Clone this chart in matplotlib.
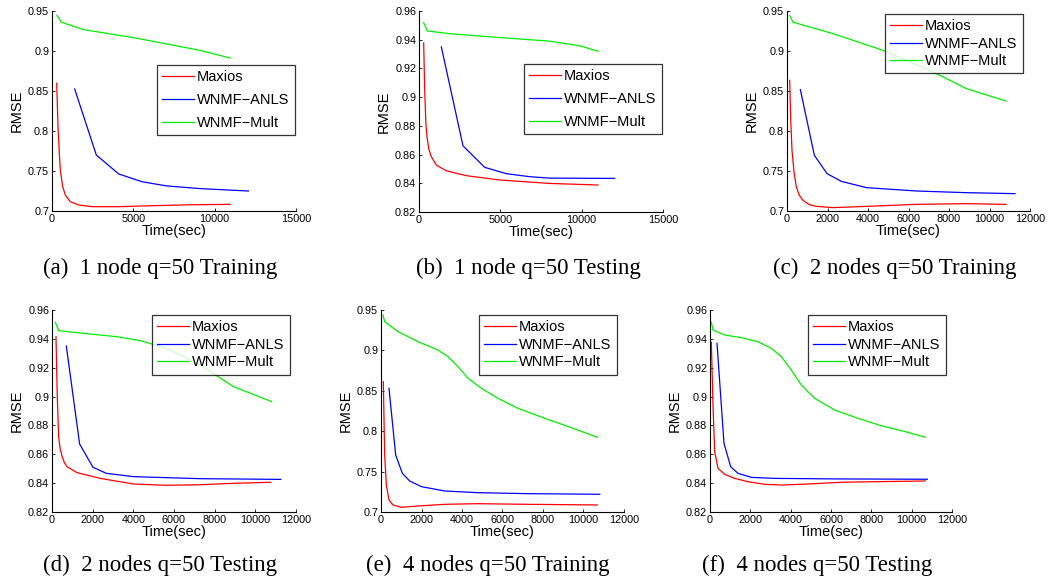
import matplotlib
matplotlib.use("Agg")
import matplotlib.pyplot as plt
from matplotlib.ticker import FuncFormatter

plt.rcParams['font.family'] = ['Liberation Sans', 'DejaVu Sans']

labels = ["Maxios", "WNMF\u2212ANLS", "WNMF\u2212Mult"]
colors = ["#ff0000", "#0000ff", "#00ee00"]

captions = ["(a)  1 node q=50 Training", "(b)  1 node q=50 Testing",
            "(c)  2 nodes q=50 Training", "(d)  2 nodes q=50 Testing",
            "(e)  4 nodes q=50 Training", "(f)  4 nodes q=50 Testing"]

# (a) 1 node training
a_red_x = [289, 370, 450, 512, 656, 820, 1127, 1639, 2459, 4100, 6148, 8500, 10947]
a_red_y = [0.8596, 0.805, 0.772, 0.7513, 0.7304, 0.720, 0.7116, 0.7075, 0.7054, 0.7054, 0.7066, 0.7078, 0.7083]
a_blue_x = [1393, 2725, 4100, 5533, 7059, 9106, 12073]
a_blue_y = [0.8525, 0.770, 0.7463, 0.7366, 0.7313, 0.728, 0.725]
a_green_x = [307, 573, 1944, 5013, 9106, 10947]
a_green_y = [0.9446, 0.936, 0.9267, 0.9167, 0.9008, 0.8913]

# (b) 1 node testing
b_red_x = [287, 350, 420, 492, 600, 758, 1066, 1680, 2910, 4959, 8033, 11004]
b_red_y = [0.9378, 0.905, 0.882, 0.8724, 0.864, 0.8585, 0.8527, 0.8487, 0.8453, 0.8423, 0.8399, 0.8388]
b_blue_x = [1373, 2705, 4037, 5369, 6803, 8033, 12029]
b_blue_y = [0.935, 0.8661, 0.8511, 0.8467, 0.8446, 0.8436, 0.8434]
b_green_x = [287, 512, 1885, 4959, 8033, 9877, 11004]
b_green_y = [0.9519, 0.9461, 0.9442, 0.9415, 0.9390, 0.9358, 0.932]

# (c) 2 nodes training
c_red_x = [132, 190, 247, 350, 462, 600, 791, 1100, 1451, 2275, 3923, 6396, 8868, 10813]
c_red_y = [0.8633, 0.810, 0.7758, 0.748, 0.730, 0.720, 0.7133, 0.708, 0.7058, 0.7042, 0.7058, 0.7083, 0.7092, 0.7083]
c_blue_x = [659, 1352, 1978, 2687, 3923, 6396, 8868, 11258]
c_blue_y = [0.8517, 0.7696, 0.7467, 0.737, 0.7292, 0.725, 0.7229, 0.7217]
c_green_x = [132, 297, 2275, 4747, 7220, 8868, 10813]
c_green_y = [0.9446, 0.936, 0.9217, 0.9008, 0.8738, 0.8529, 0.8375]

# (d) 2 nodes testing
d_red_x = [196, 260, 327, 400, 491, 600, 737, 1228, 2374, 4011, 5648, 7285, 8923, 10757]
d_red_y = [0.9415, 0.900, 0.8722, 0.864, 0.8588, 0.8545, 0.8514, 0.8473, 0.8433, 0.8394, 0.8385, 0.8389, 0.8399, 0.8406]
d_blue_x = [704, 1359, 2014, 2669, 4011, 7285, 11248]
d_blue_y = [0.935, 0.8671, 0.851, 0.8468, 0.8445, 0.8431, 0.8426]
d_green_x = [164, 327, 1555, 3193, 4339, 5648, 7285, 8923, 10806]
d_green_y = [0.9515, 0.9457, 0.9438, 0.9415, 0.9388, 0.9334, 0.9219, 0.9069, 0.8965]

# (e) 4 nodes training
e_red_x = [115, 181, 264, 395, 593, 1004, 1827, 3144, 4790, 7259, 10683]
e_red_y = [0.8613, 0.7706, 0.7334, 0.7149, 0.7087, 0.7058, 0.7074, 0.7095, 0.7103, 0.7095, 0.7087]
e_blue_x = [395, 724, 1053, 1416, 1992, 3144, 4790, 7259, 10800]
e_blue_y = [0.8531, 0.7706, 0.7479, 0.7384, 0.7314, 0.726, 0.7239, 0.7227, 0.7219]
e_green_x = [99, 181, 840, 1827, 2815, 3309, 3802, 4296, 4955, 5778, 6765, 8083, 9399, 10683]
e_green_y = [0.9438, 0.9355, 0.9232, 0.9108, 0.9005, 0.8922, 0.8798, 0.8655, 0.8531, 0.8407, 0.8283, 0.816, 0.8044, 0.7924]

# (f) 4 nodes testing
f_red_x = [66, 149, 231, 397, 728, 1223, 1884, 2711, 3537, 4860, 6513, 8166, 10677]
f_red_y = [0.9376, 0.8942, 0.8618, 0.8503, 0.8461, 0.8433, 0.841, 0.8392, 0.8387, 0.8394, 0.8406, 0.841, 0.8415]
f_blue_x = [347, 694, 1025, 1389, 2049, 3207, 6513, 10776]
f_blue_y = [0.9369, 0.8676, 0.8514, 0.8468, 0.844, 0.8433, 0.8429, 0.8427]
f_green_x = [66, 149, 728, 1554, 2380, 3041, 3537, 4033, 4529, 5190, 6183, 7339, 8496, 9818, 10677]
f_green_y = [0.9515, 0.9461, 0.9427, 0.9408, 0.938, 0.9334, 0.9277, 0.9184, 0.908, 0.8988, 0.8907, 0.8849, 0.8798, 0.8752, 0.8718]

xticks_15k = [0, 5000, 10000, 15000]
xticks_12k = [0, 2000, 4000, 6000, 8000, 10000, 12000]
yticks_train = [0.7, 0.75, 0.8, 0.85, 0.9, 0.95]
yticks_test = [0.82, 0.84, 0.86, 0.88, 0.9, 0.92, 0.94, 0.96]

panels = [
    dict(series=[(a_red_x, a_red_y), (a_blue_x, a_blue_y), (a_green_x, a_green_y)],
         xt=xticks_15k, yt=yticks_train),
    dict(series=[(b_red_x, b_red_y), (b_blue_x, b_blue_y), (b_green_x, b_green_y)],
         xt=xticks_15k, yt=yticks_test),
    dict(series=[(c_red_x, c_red_y), (c_blue_x, c_blue_y), (c_green_x, c_green_y)],
         xt=xticks_12k, yt=yticks_train),
    dict(series=[(d_red_x, d_red_y), (d_blue_x, d_blue_y), (d_green_x, d_green_y)],
         xt=xticks_12k, yt=yticks_test),
    dict(series=[(e_red_x, e_red_y), (e_blue_x, e_blue_y), (e_green_x, e_green_y)],
         xt=xticks_12k, yt=yticks_train),
    dict(series=[(f_red_x, f_red_y), (f_blue_x, f_blue_y), (f_green_x, f_green_y)],
         xt=xticks_12k, yt=yticks_test),
]

W, H = 1049, 582
fig = plt.figure(figsize=(W / 100, H / 100), dpi=100)

# pixel boxes: left, top, right, bottom
boxes = [(52, 11, 296, 211), (419, 11, 663, 212), (787, 11, 1030, 211),
         (52, 310, 296, 512), (381, 310, 624, 512), (710, 310, 952, 512)]
# legend upper-left corners in pixels, label spacing
leg_pos = [(157, 65, 0.62), (524, 64, 0.62), (885, 14, 0.25),
           (152, 315, 0.25), (479, 315, 0.25), (808, 315, 0.25)]
cap_pos = [(160, 268), (528, 268), (895, 268), (160, 565), (488, 565), (817, 565)]

fmt = FuncFormatter(lambda v, p: ("%g" % round(v, 4)))

for i, p in enumerate(panels):
    l, t, r, b = boxes[i]
    ax = fig.add_axes([l / W, 1 - b / H, (r - l) / W, (b - t) / H])
    for (xs, ys), c, lab in zip(p["series"], colors, labels):
        ax.plot(xs, ys, color=c, lw=0.9, label=lab)
    ax.set_xlim(p["xt"][0], p["xt"][-1])
    ax.set_ylim(p["yt"][0], p["yt"][-1])
    ax.set_xticks(p["xt"])
    ax.set_yticks(p["yt"])
    ax.xaxis.set_major_formatter(fmt)
    ax.yaxis.set_major_formatter(fmt)
    ax.spines['top'].set_visible(False)
    ax.spines['right'].set_visible(False)
    for s in ('left', 'bottom'):
        ax.spines[s].set_linewidth(0.8)
    ax.tick_params(direction='in', length=2.5, width=0.6, labelsize=7.8, pad=2)
    ax.set_xlabel("Time(sec)", fontsize=10.5, labelpad=0)
    ax.set_ylabel("RMSE", fontsize=10.5, labelpad=3)
    lx, ly, ls = leg_pos[i]
    leg = ax.legend(loc='upper left', bbox_to_anchor=(lx / W, 1 - ly / H),
                    bbox_transform=fig.transFigure, fontsize=10.5,
                    frameon=True, fancybox=False, borderaxespad=0,
                    handlelength=2.2, handletextpad=0.2, labelspacing=ls,
                    borderpad=0.35)
    leg.get_frame().set_edgecolor('black')
    leg.get_frame().set_linewidth(0.9)
    cx, cy = cap_pos[i]
    fig.text(cx / W, 1 - cy / H, captions[i], ha='center', va='center',
             fontsize=16.5, family='Liberation Serif')

fig.savefig("out.png", dpi=100)
